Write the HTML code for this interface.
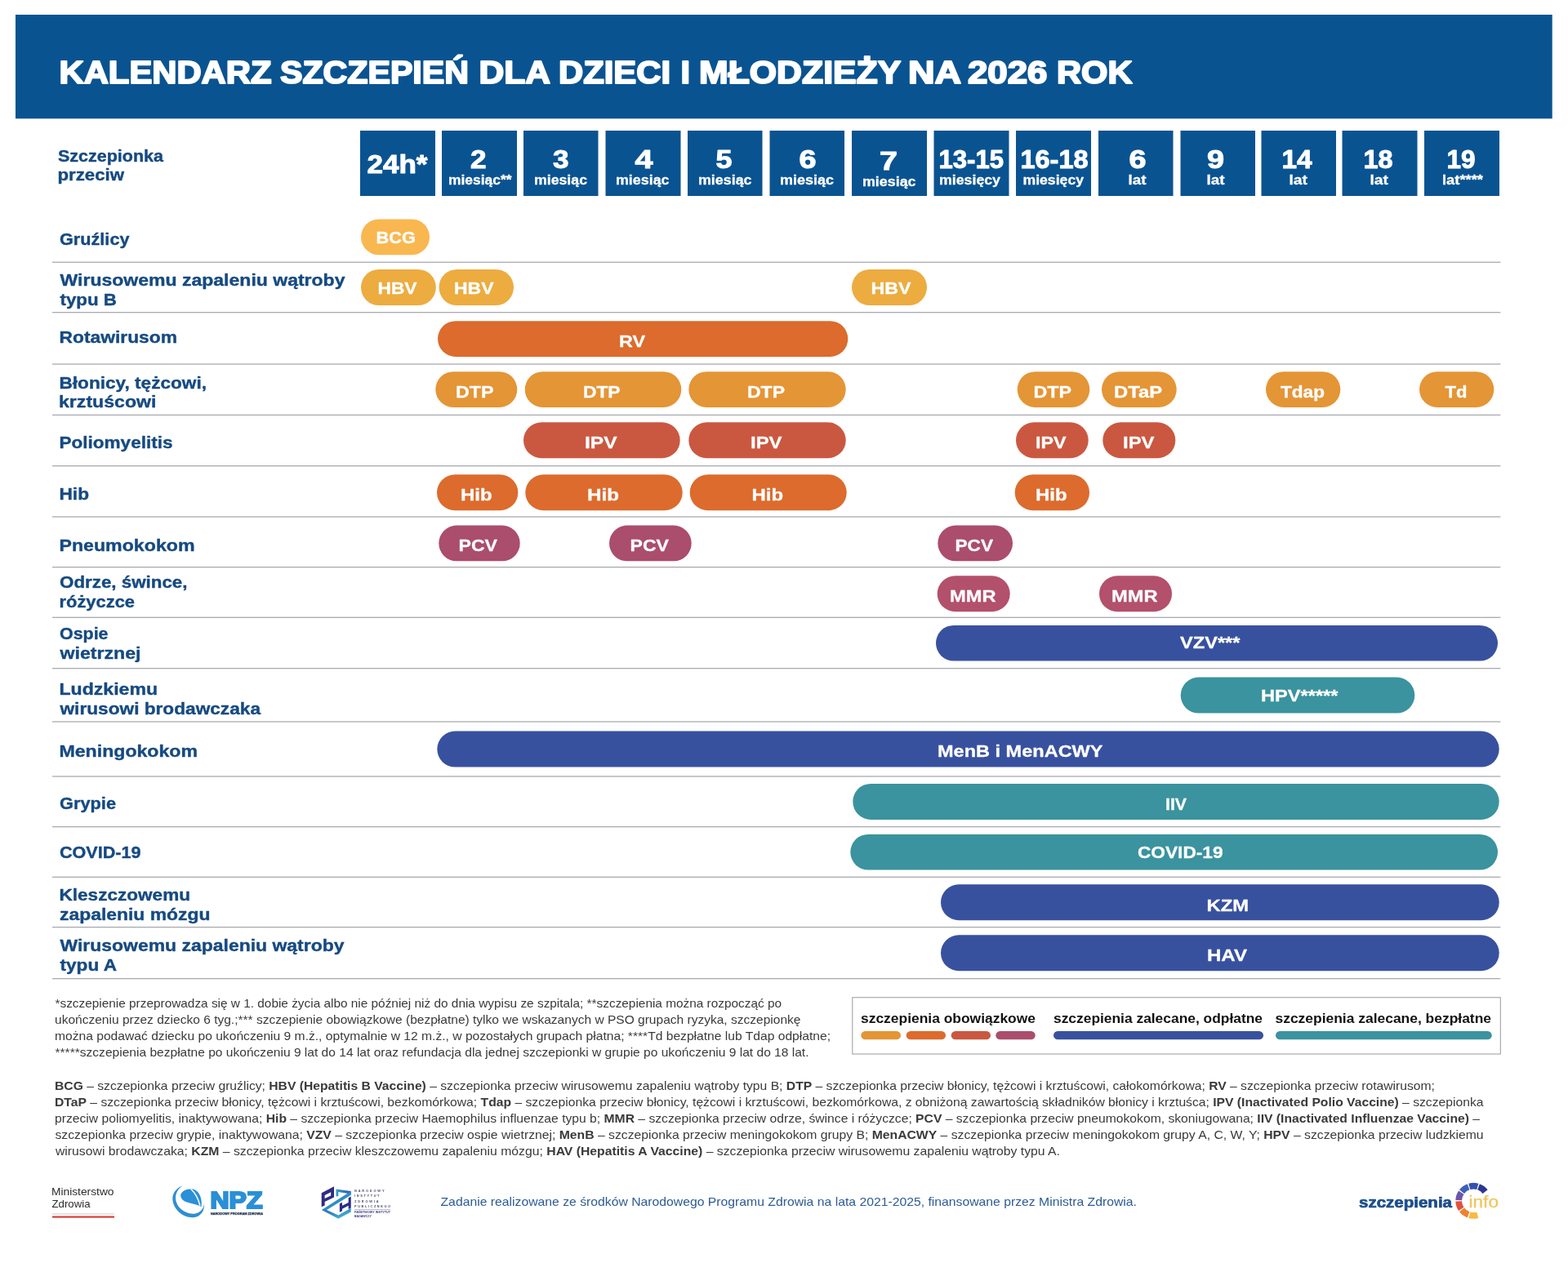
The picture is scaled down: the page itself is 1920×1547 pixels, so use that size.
<!DOCTYPE html>
<html lang="pl">
<head>
<meta charset="utf-8">
<title>Kalendarz szczepień dla dzieci i młodzieży na 2026 rok</title>
<style>
html,body{margin:0;padding:0;background:#fff;}
body{width:1920px;height:1547px;overflow:hidden;font-family:"Liberation Sans",sans-serif;}
svg{display:block;font-family:"Liberation Sans",sans-serif;}
svg text{white-space:pre;}
</style>
</head>
<body>
<svg width="1920" height="1547" viewBox="0 0 1920 1547" role="img" aria-label="Kalendarz szczepień">
<rect width="1920" height="1547" fill="#fff"/>
<rect x="19.00" y="18.00" width="1881.70" height="127.30" fill="#0a5391"/>
<rect x="441.00" y="160.00" width="92.00" height="80.00" fill="#0a5391"/>
<rect x="541.00" y="160.00" width="92.00" height="80.00" fill="#0a5391"/>
<rect x="641.00" y="160.00" width="91.50" height="80.00" fill="#0a5391"/>
<rect x="741.50" y="160.00" width="92.00" height="80.00" fill="#0a5391"/>
<rect x="842.00" y="160.00" width="91.50" height="80.00" fill="#0a5391"/>
<rect x="942.50" y="160.00" width="91.50" height="80.00" fill="#0a5391"/>
<rect x="1043.00" y="160.00" width="92.00" height="80.00" fill="#0a5391"/>
<rect x="1143.50" y="160.00" width="92.00" height="80.00" fill="#0a5391"/>
<rect x="1244.00" y="160.00" width="92.00" height="80.00" fill="#0a5391"/>
<rect x="1345.00" y="160.00" width="91.50" height="80.00" fill="#0a5391"/>
<rect x="1445.50" y="160.00" width="91.50" height="80.00" fill="#0a5391"/>
<rect x="1544.50" y="160.00" width="91.50" height="80.00" fill="#0a5391"/>
<rect x="1643.50" y="160.00" width="92.00" height="80.00" fill="#0a5391"/>
<rect x="1744.00" y="160.00" width="92.00" height="80.00" fill="#0a5391"/>
<rect x="64.00" y="320.60" width="1773.30" height="1.20" fill="#a2a4a9"/>
<rect x="64.00" y="382.10" width="1773.30" height="1.20" fill="#a2a4a9"/>
<rect x="64.00" y="445.40" width="1773.30" height="1.20" fill="#a2a4a9"/>
<rect x="64.00" y="507.70" width="1773.30" height="1.20" fill="#a2a4a9"/>
<rect x="64.00" y="570.10" width="1773.30" height="1.20" fill="#a2a4a9"/>
<rect x="64.00" y="632.40" width="1773.30" height="1.20" fill="#a2a4a9"/>
<rect x="64.00" y="694.10" width="1773.30" height="1.20" fill="#a2a4a9"/>
<rect x="64.00" y="755.70" width="1773.30" height="1.20" fill="#a2a4a9"/>
<rect x="64.00" y="818.10" width="1773.30" height="1.20" fill="#a2a4a9"/>
<rect x="64.00" y="883.40" width="1773.30" height="1.20" fill="#a2a4a9"/>
<rect x="64.00" y="950.40" width="1773.30" height="1.20" fill="#a2a4a9"/>
<rect x="64.00" y="1012.10" width="1773.30" height="1.20" fill="#a2a4a9"/>
<rect x="64.00" y="1073.70" width="1773.30" height="1.20" fill="#a2a4a9"/>
<rect x="64.00" y="1135.10" width="1773.30" height="1.20" fill="#a2a4a9"/>
<rect x="64.00" y="1198.10" width="1773.30" height="1.20" fill="#a2a4a9"/>
<rect x="442.00" y="268.40" width="84.00" height="43.90" fill="#f9b750" rx="21.95"/>
<rect x="442.00" y="329.90" width="91.80" height="44.20" fill="#ecac40" rx="22.10"/>
<rect x="537.50" y="329.90" width="91.50" height="44.20" fill="#ecac40" rx="22.10"/>
<rect x="1043.00" y="329.90" width="92.00" height="44.20" fill="#ecac40" rx="22.10"/>
<rect x="536.00" y="393.20" width="502.30" height="43.80" fill="#dc6b2d" rx="21.90"/>
<rect x="533.30" y="455.20" width="100.00" height="43.80" fill="#e49536" rx="21.90"/>
<rect x="642.70" y="455.20" width="191.60" height="43.80" fill="#e49536" rx="21.90"/>
<rect x="843.30" y="455.20" width="192.40" height="43.80" fill="#e49536" rx="21.90"/>
<rect x="1245.70" y="455.20" width="88.60" height="43.80" fill="#e49536" rx="21.90"/>
<rect x="1349.00" y="455.20" width="91.70" height="43.80" fill="#e49536" rx="21.90"/>
<rect x="1550.00" y="455.20" width="91.30" height="43.80" fill="#e49536" rx="21.90"/>
<rect x="1738.00" y="455.20" width="91.30" height="43.80" fill="#e49536" rx="21.90"/>
<rect x="641.00" y="517.20" width="191.70" height="44.10" fill="#ca5840" rx="22.05"/>
<rect x="843.30" y="517.20" width="192.40" height="44.10" fill="#ca5840" rx="22.05"/>
<rect x="1244.00" y="517.20" width="88.70" height="44.10" fill="#ca5840" rx="22.05"/>
<rect x="1350.30" y="517.20" width="89.00" height="44.10" fill="#ca5840" rx="22.05"/>
<rect x="535.00" y="581.20" width="99.30" height="44.10" fill="#dc6b2d" rx="22.05"/>
<rect x="643.30" y="581.20" width="192.40" height="44.10" fill="#dc6b2d" rx="22.05"/>
<rect x="844.70" y="581.20" width="192.00" height="44.10" fill="#dc6b2d" rx="22.05"/>
<rect x="1242.70" y="581.20" width="91.30" height="44.10" fill="#dc6b2d" rx="22.05"/>
<rect x="537.30" y="643.60" width="99.40" height="43.70" fill="#ab4d6d" rx="21.85"/>
<rect x="746.00" y="643.60" width="100.70" height="43.70" fill="#ab4d6d" rx="21.85"/>
<rect x="1148.30" y="643.60" width="91.70" height="43.70" fill="#ab4d6d" rx="21.85"/>
<rect x="1147.70" y="705.20" width="89.00" height="44.10" fill="#b3506c" rx="22.05"/>
<rect x="1346.00" y="705.20" width="89.00" height="44.10" fill="#b3506c" rx="22.05"/>
<rect x="1146.00" y="765.90" width="688.00" height="43.70" fill="#38519f" rx="21.85"/>
<rect x="1445.70" y="829.60" width="286.60" height="44.00" fill="#3a939e" rx="22.00"/>
<rect x="535.30" y="895.60" width="1300.40" height="44.00" fill="#38519f" rx="22.00"/>
<rect x="1044.30" y="959.90" width="791.40" height="44.10" fill="#3a939e" rx="22.05"/>
<rect x="1041.30" y="1021.90" width="792.70" height="43.70" fill="#3a939e" rx="21.85"/>
<rect x="1152.00" y="1083.20" width="683.70" height="44.10" fill="#38519f" rx="22.05"/>
<rect x="1152.00" y="1145.20" width="683.70" height="44.10" fill="#38519f" rx="22.05"/>
<rect x="1043.8" y="1221.8" width="793.5" height="69.2" fill="#fff" stroke="#9a9a9a" stroke-width="1"/>
<rect x="1054.30" y="1263.00" width="48.70" height="10.30" fill="#e49536" rx="5.15"/>
<rect x="1109.70" y="1263.00" width="48.30" height="10.30" fill="#dc6b2d" rx="5.15"/>
<rect x="1164.70" y="1263.00" width="48.30" height="10.30" fill="#ca5840" rx="5.15"/>
<rect x="1219.30" y="1263.00" width="48.40" height="10.30" fill="#ab4d6d" rx="5.15"/>
<rect x="1290.00" y="1263.00" width="257.00" height="10.30" fill="#38519f" rx="5.15"/>
<rect x="1562.00" y="1263.00" width="264.70" height="10.30" fill="#3a939e" rx="5.15"/>
<rect x="64.00" y="1486.30" width="76.00" height="1.20" fill="#d4d4d8"/>
<rect x="64.00" y="1489.50" width="76.00" height="2.10" fill="#d8392f"/>
<g id="logo-npz" transform="translate(200,1440) scale(0.07292)">
<path fill="#2f8fd0" d="M325,172 C215,205 150,300 155,395 C165,570 335,712 500,703 C625,695 692,600 688,470 C672,575 600,640 500,640 C350,640 212,520 207,385 C203,295 250,215 325,172 Z"/>
<path fill="#2b90d8" d="M291,335 C288,268 380,222 478,222 C580,230 660,350 640,520 C565,484 480,472 420,452 C350,430 294,400 291,335 Z"/>
<path fill="none" stroke="#fff" stroke-width="21" stroke-linecap="butt" d="M462,222 C530,285 585,370 615,500"/>
</g>
<g id="logo-pzh" transform="translate(380,1440) scale(0.07292)">
<defs><linearGradient id="gz" x1="0" y1="0" x2="1" y2="1"><stop offset="0" stop-color="#3a62c0"/><stop offset="0.5" stop-color="#2c8fc4"/><stop offset="1" stop-color="#53cfe6"/></linearGradient><linearGradient id="gz2" x1="0" y1="0" x2="1" y2="0"><stop offset="0" stop-color="#2f9fc8"/><stop offset="1" stop-color="#3a4fb4"/></linearGradient></defs>
<path fill="#2f2c82" fill-rule="evenodd" d="M188,292 L398,182 L398,362 L242,440 L242,500 L188,525 Z M242,328 L242,385 L345,335 L345,278 Z"/>
<path fill="url(#gz2)" d="M432,225 L682,262 L682,320 L640,300 L470,275 L470,345 L432,345 Z"/>
<path fill="#2c8fc4" d="M682,262 L682,325 L275,575 L190,575 Z"/>
<path fill="url(#gz)" d="M190,575 L275,575 L470,665 L682,545 L682,610 L470,722 Z"/>
<path fill="#2b2a8c" d="M492,470 L535,448 L535,505 L640,452 L640,372 L682,348 L682,540 L640,562 L640,505 L535,560 L535,592 L492,615 Z"/>
</g>
<text x="434" y="1459.9" font-size="3.9" font-weight="bold" fill="#4b4a6b" textLength="36.5" lengthAdjust="spacing">NARODOWY</text>
<text x="434" y="1466.3" font-size="3.9" font-weight="bold" fill="#4b4a6b" textLength="30.5" lengthAdjust="spacing">INSTYTUT</text>
<text x="434" y="1472.6" font-size="3.9" font-weight="bold" fill="#4b4a6b" textLength="29.5" lengthAdjust="spacing">ZDROWIA</text>
<text x="434" y="1478.9" font-size="3.9" font-weight="bold" fill="#4b4a6b" textLength="44.0" lengthAdjust="spacing">PUBLICZNEGO</text>
<rect x="434" y="1481.1" width="44" height="0.5" fill="#7a7a9a"/>
<text x="434" y="1486.2" font-size="3.4" font-weight="bold" fill="#3b3a8a" textLength="44" lengthAdjust="spacingAndGlyphs">PAŃSTWOWY INSTYTUT</text>
<text x="434" y="1490.9" font-size="3.4" font-weight="bold" fill="#3b3a8a" textLength="21" lengthAdjust="spacingAndGlyphs">BADAWCZY</text>
<g id="logo-szczepienia">
<path fill="#2d3793" d="M1811.82,1450.13 A22.0,22.0 0 0 1 1821.64,1457.26 L1815.57,1462.00 A14.3,14.3 0 0 0 1809.19,1457.36 Z"/>
<path fill="#3450ad" d="M1798.24,1449.65 A22.0,22.0 0 0 1 1810.36,1449.65 L1808.24,1457.05 A14.3,14.3 0 0 0 1800.36,1457.05 Z"/>
<path fill="#3f60b8" d="M1786.96,1457.26 A22.0,22.0 0 0 1 1796.78,1450.13 L1799.41,1457.36 A14.3,14.3 0 0 0 1793.03,1462.00 Z"/>
<path fill="#6b56a9" d="M1782.31,1470.03 A22.0,22.0 0 0 1 1786.06,1458.50 L1792.44,1462.80 A14.3,14.3 0 0 0 1790.01,1470.30 Z"/>
<path fill="#e2513d" d="M1786.06,1483.10 A22.0,22.0 0 0 1 1782.31,1471.57 L1790.01,1471.30 A14.3,14.3 0 0 0 1792.44,1478.80 Z"/>
<path fill="#f0812e" d="M1796.78,1491.47 A22.0,22.0 0 0 1 1786.96,1484.34 L1793.03,1479.60 A14.3,14.3 0 0 0 1799.41,1484.24 Z"/>
<path fill="#f8ba45" d="M1810.36,1491.95 A22.0,22.0 0 0 1 1798.24,1491.95 L1800.36,1484.55 A14.3,14.3 0 0 0 1808.24,1484.55 Z"/>
</g>
<text y="102.30" font-size="39.2" font-weight="bold" fill="#fff" stroke="#fff" stroke-width="2.0" stroke-linejoin="round"><tspan x="72.50" textLength="260.00" lengthAdjust="spacingAndGlyphs">KALENDARZ</tspan> <tspan x="343.00" textLength="231.00" lengthAdjust="spacingAndGlyphs">SZCZEPIEŃ</tspan> <tspan x="586.50" textLength="86.00" lengthAdjust="spacingAndGlyphs">DLA</tspan> <tspan x="684.00" textLength="137.00" lengthAdjust="spacingAndGlyphs">DZIECI</tspan> <tspan x="833.50" textLength="11.50" lengthAdjust="spacingAndGlyphs">I</tspan> <tspan x="856.00" textLength="246.50" lengthAdjust="spacingAndGlyphs">MŁODZIEŻY</tspan> <tspan x="1112.00" textLength="63.50" lengthAdjust="spacingAndGlyphs">NA</tspan> <tspan x="1185.00" textLength="97.50" lengthAdjust="spacingAndGlyphs">2026</tspan> <tspan x="1294.00" textLength="92.50" lengthAdjust="spacingAndGlyphs">ROK</tspan></text>
<text x="449.50" y="211.50" font-size="31.7" font-weight="bold" fill="#fff" textLength="74.00" lengthAdjust="spacingAndGlyphs" stroke="#fff" stroke-width="1.0" stroke-linejoin="round">24h*</text>
<text x="576.00" y="206.10" font-size="31.7" font-weight="bold" fill="#fff" textLength="19.50" lengthAdjust="spacingAndGlyphs" stroke="#fff" stroke-width="1.0" stroke-linejoin="round">2</text>
<text x="549.00" y="226.00" font-size="16.5" font-weight="bold" fill="#fff" textLength="77.50" lengthAdjust="spacingAndGlyphs" stroke="#fff" stroke-width="0.3" stroke-linejoin="round">miesiąc**</text>
<text x="677.00" y="206.10" font-size="31.7" font-weight="bold" fill="#fff" textLength="19.50" lengthAdjust="spacingAndGlyphs" stroke="#fff" stroke-width="1.0" stroke-linejoin="round">3</text>
<text x="654.00" y="226.00" font-size="16.5" font-weight="bold" fill="#fff" textLength="65.00" lengthAdjust="spacingAndGlyphs" stroke="#fff" stroke-width="0.3" stroke-linejoin="round">miesiąc</text>
<text x="777.50" y="206.10" font-size="31.7" font-weight="bold" fill="#fff" textLength="22.00" lengthAdjust="spacingAndGlyphs" stroke="#fff" stroke-width="1.0" stroke-linejoin="round">4</text>
<text x="754.00" y="226.00" font-size="16.5" font-weight="bold" fill="#fff" textLength="65.50" lengthAdjust="spacingAndGlyphs" stroke="#fff" stroke-width="0.3" stroke-linejoin="round">miesiąc</text>
<text x="876.50" y="206.10" font-size="31.7" font-weight="bold" fill="#fff" textLength="20.00" lengthAdjust="spacingAndGlyphs" stroke="#fff" stroke-width="1.0" stroke-linejoin="round">5</text>
<text x="855.00" y="226.00" font-size="16.5" font-weight="bold" fill="#fff" textLength="65.50" lengthAdjust="spacingAndGlyphs" stroke="#fff" stroke-width="0.3" stroke-linejoin="round">miesiąc</text>
<text x="978.50" y="206.10" font-size="31.7" font-weight="bold" fill="#fff" textLength="21.00" lengthAdjust="spacingAndGlyphs" stroke="#fff" stroke-width="1.0" stroke-linejoin="round">6</text>
<text x="955.00" y="226.00" font-size="16.5" font-weight="bold" fill="#fff" textLength="66.00" lengthAdjust="spacingAndGlyphs" stroke="#fff" stroke-width="0.3" stroke-linejoin="round">miesiąc</text>
<text x="1077.00" y="208.10" font-size="31.7" font-weight="bold" fill="#fff" textLength="22.00" lengthAdjust="spacingAndGlyphs" stroke="#fff" stroke-width="1.0" stroke-linejoin="round">7</text>
<text x="1056.00" y="228.00" font-size="16.5" font-weight="bold" fill="#fff" textLength="65.50" lengthAdjust="spacingAndGlyphs" stroke="#fff" stroke-width="0.3" stroke-linejoin="round">miesiąc</text>
<text x="1149.50" y="206.10" font-size="31.7" font-weight="bold" fill="#fff" textLength="79.50" lengthAdjust="spacingAndGlyphs" stroke="#fff" stroke-width="1.0" stroke-linejoin="round">13-15</text>
<text x="1150.00" y="226.00" font-size="16.5" font-weight="bold" fill="#fff" textLength="75.00" lengthAdjust="spacingAndGlyphs" stroke="#fff" stroke-width="0.3" stroke-linejoin="round">miesięcy</text>
<text x="1249.50" y="206.10" font-size="31.7" font-weight="bold" fill="#fff" textLength="83.00" lengthAdjust="spacingAndGlyphs" stroke="#fff" stroke-width="1.0" stroke-linejoin="round">16-18</text>
<text x="1252.50" y="226.00" font-size="16.5" font-weight="bold" fill="#fff" textLength="74.50" lengthAdjust="spacingAndGlyphs" stroke="#fff" stroke-width="0.3" stroke-linejoin="round">miesięcy</text>
<text x="1382.50" y="206.10" font-size="31.7" font-weight="bold" fill="#fff" textLength="21.00" lengthAdjust="spacingAndGlyphs" stroke="#fff" stroke-width="1.0" stroke-linejoin="round">6</text>
<text x="1381.50" y="226.00" font-size="16.5" font-weight="bold" fill="#fff" textLength="22.00" lengthAdjust="spacingAndGlyphs" stroke="#fff" stroke-width="0.3" stroke-linejoin="round">lat</text>
<text x="1478.00" y="206.10" font-size="31.7" font-weight="bold" fill="#fff" textLength="21.00" lengthAdjust="spacingAndGlyphs" stroke="#fff" stroke-width="1.0" stroke-linejoin="round">9</text>
<text x="1477.50" y="226.00" font-size="16.5" font-weight="bold" fill="#fff" textLength="22.00" lengthAdjust="spacingAndGlyphs" stroke="#fff" stroke-width="0.3" stroke-linejoin="round">lat</text>
<text x="1569.50" y="206.10" font-size="31.7" font-weight="bold" fill="#fff" textLength="37.00" lengthAdjust="spacingAndGlyphs" stroke="#fff" stroke-width="1.0" stroke-linejoin="round">14</text>
<text x="1578.50" y="226.00" font-size="16.5" font-weight="bold" fill="#fff" textLength="22.50" lengthAdjust="spacingAndGlyphs" stroke="#fff" stroke-width="0.3" stroke-linejoin="round">lat</text>
<text x="1669.50" y="206.10" font-size="31.7" font-weight="bold" fill="#fff" textLength="36.00" lengthAdjust="spacingAndGlyphs" stroke="#fff" stroke-width="1.0" stroke-linejoin="round">18</text>
<text x="1677.50" y="226.00" font-size="16.5" font-weight="bold" fill="#fff" textLength="22.50" lengthAdjust="spacingAndGlyphs" stroke="#fff" stroke-width="0.3" stroke-linejoin="round">lat</text>
<text x="1771.50" y="206.10" font-size="31.7" font-weight="bold" fill="#fff" textLength="35.00" lengthAdjust="spacingAndGlyphs" stroke="#fff" stroke-width="1.0" stroke-linejoin="round">19</text>
<text x="1766.00" y="226.00" font-size="16.5" font-weight="bold" fill="#fff" textLength="50.00" lengthAdjust="spacingAndGlyphs" stroke="#fff" stroke-width="0.3" stroke-linejoin="round">lat****</text>
<text x="71.00" y="197.50" font-size="20" font-weight="bold" fill="#164a80" textLength="129.00" lengthAdjust="spacingAndGlyphs" stroke="#164a80" stroke-width="0.4" stroke-linejoin="round">Szczepionka</text>
<text x="70.50" y="221.30" font-size="20" font-weight="bold" fill="#164a80" textLength="81.50" lengthAdjust="spacingAndGlyphs" stroke="#164a80" stroke-width="0.4" stroke-linejoin="round">przeciw</text>
<text x="73.00" y="299.60" font-size="21" font-weight="bold" fill="#164a80" textLength="85.50" lengthAdjust="spacingAndGlyphs" stroke="#164a80" stroke-width="0.4" stroke-linejoin="round">Gruźlicy</text>
<text x="73.50" y="349.60" font-size="21" font-weight="bold" fill="#164a80" textLength="349.00" lengthAdjust="spacingAndGlyphs" stroke="#164a80" stroke-width="0.4" stroke-linejoin="round">Wirusowemu zapaleniu wątroby</text>
<text x="73.50" y="373.60" font-size="21" font-weight="bold" fill="#164a80" textLength="69.50" lengthAdjust="spacingAndGlyphs" stroke="#164a80" stroke-width="0.4" stroke-linejoin="round">typu B</text>
<text x="72.50" y="420.30" font-size="21" font-weight="bold" fill="#164a80" textLength="144.50" lengthAdjust="spacingAndGlyphs" stroke="#164a80" stroke-width="0.4" stroke-linejoin="round">Rotawirusom</text>
<text x="72.50" y="475.60" font-size="21" font-weight="bold" fill="#164a80" textLength="180.50" lengthAdjust="spacingAndGlyphs" stroke="#164a80" stroke-width="0.4" stroke-linejoin="round">Błonicy, tężcowi,</text>
<text x="72.00" y="498.90" font-size="21" font-weight="bold" fill="#164a80" textLength="119.50" lengthAdjust="spacingAndGlyphs" stroke="#164a80" stroke-width="0.4" stroke-linejoin="round">krztuścowi</text>
<text x="72.50" y="548.90" font-size="21" font-weight="bold" fill="#164a80" textLength="139.00" lengthAdjust="spacingAndGlyphs" stroke="#164a80" stroke-width="0.4" stroke-linejoin="round">Poliomyelitis</text>
<text x="72.50" y="612.30" font-size="21" font-weight="bold" fill="#164a80" textLength="36.50" lengthAdjust="spacingAndGlyphs" stroke="#164a80" stroke-width="0.4" stroke-linejoin="round">Hib</text>
<text x="72.50" y="674.60" font-size="21" font-weight="bold" fill="#164a80" textLength="166.00" lengthAdjust="spacingAndGlyphs" stroke="#164a80" stroke-width="0.4" stroke-linejoin="round">Pneumokokom</text>
<text x="73.00" y="720.30" font-size="21" font-weight="bold" fill="#164a80" textLength="156.50" lengthAdjust="spacingAndGlyphs" stroke="#164a80" stroke-width="0.4" stroke-linejoin="round">Odrze, śwince,</text>
<text x="72.50" y="743.90" font-size="21" font-weight="bold" fill="#164a80" textLength="92.50" lengthAdjust="spacingAndGlyphs" stroke="#164a80" stroke-width="0.4" stroke-linejoin="round">różyczce</text>
<text x="73.00" y="782.60" font-size="21" font-weight="bold" fill="#164a80" textLength="59.50" lengthAdjust="spacingAndGlyphs" stroke="#164a80" stroke-width="0.4" stroke-linejoin="round">Ospie</text>
<text x="73.50" y="806.60" font-size="21" font-weight="bold" fill="#164a80" textLength="99.00" lengthAdjust="spacingAndGlyphs" stroke="#164a80" stroke-width="0.4" stroke-linejoin="round">wietrznej</text>
<text x="72.50" y="850.60" font-size="21" font-weight="bold" fill="#164a80" textLength="120.50" lengthAdjust="spacingAndGlyphs" stroke="#164a80" stroke-width="0.4" stroke-linejoin="round">Ludzkiemu</text>
<text x="73.50" y="874.60" font-size="21" font-weight="bold" fill="#164a80" textLength="245.50" lengthAdjust="spacingAndGlyphs" stroke="#164a80" stroke-width="0.4" stroke-linejoin="round">wirusowi brodawczaka</text>
<text x="72.50" y="926.90" font-size="21" font-weight="bold" fill="#164a80" textLength="169.50" lengthAdjust="spacingAndGlyphs" stroke="#164a80" stroke-width="0.4" stroke-linejoin="round">Meningokokom</text>
<text x="73.00" y="991.30" font-size="21" font-weight="bold" fill="#164a80" textLength="69.00" lengthAdjust="spacingAndGlyphs" stroke="#164a80" stroke-width="0.4" stroke-linejoin="round">Grypie</text>
<text x="73.00" y="1050.60" font-size="21" font-weight="bold" fill="#164a80" textLength="99.50" lengthAdjust="spacingAndGlyphs" stroke="#164a80" stroke-width="0.4" stroke-linejoin="round">COVID-19</text>
<text x="72.50" y="1102.90" font-size="21" font-weight="bold" fill="#164a80" textLength="160.50" lengthAdjust="spacingAndGlyphs" stroke="#164a80" stroke-width="0.4" stroke-linejoin="round">Kleszczowemu</text>
<text x="73.00" y="1126.90" font-size="21" font-weight="bold" fill="#164a80" textLength="184.50" lengthAdjust="spacingAndGlyphs" stroke="#164a80" stroke-width="0.4" stroke-linejoin="round">zapaleniu mózgu</text>
<text x="73.50" y="1165.30" font-size="21" font-weight="bold" fill="#164a80" textLength="348.00" lengthAdjust="spacingAndGlyphs" stroke="#164a80" stroke-width="0.4" stroke-linejoin="round">Wirusowemu zapaleniu wątroby</text>
<text x="73.50" y="1188.90" font-size="21" font-weight="bold" fill="#164a80" textLength="69.50" lengthAdjust="spacingAndGlyphs" stroke="#164a80" stroke-width="0.4" stroke-linejoin="round">typu A</text>
<text x="460.50" y="297.50" font-size="20" font-weight="bold" fill="#fff" textLength="48.50" lengthAdjust="spacingAndGlyphs" stroke="#fff" stroke-width="0.3" stroke-linejoin="round">BCG</text>
<text x="462.50" y="360.00" font-size="20" font-weight="bold" fill="#fff" textLength="48.00" lengthAdjust="spacingAndGlyphs" stroke="#fff" stroke-width="0.3" stroke-linejoin="round">HBV</text>
<text x="556.00" y="360.00" font-size="20" font-weight="bold" fill="#fff" textLength="48.50" lengthAdjust="spacingAndGlyphs" stroke="#fff" stroke-width="0.3" stroke-linejoin="round">HBV</text>
<text x="1066.50" y="360.00" font-size="20" font-weight="bold" fill="#fff" textLength="49.00" lengthAdjust="spacingAndGlyphs" stroke="#fff" stroke-width="0.3" stroke-linejoin="round">HBV</text>
<text x="758.00" y="425.00" font-size="20" font-weight="bold" fill="#fff" textLength="32.00" lengthAdjust="spacingAndGlyphs" stroke="#fff" stroke-width="0.3" stroke-linejoin="round">RV</text>
<text x="558.00" y="486.90" font-size="20" font-weight="bold" fill="#fff" textLength="46.50" lengthAdjust="spacingAndGlyphs" stroke="#fff" stroke-width="0.3" stroke-linejoin="round">DTP</text>
<text x="714.00" y="486.90" font-size="20" font-weight="bold" fill="#fff" textLength="45.50" lengthAdjust="spacingAndGlyphs" stroke="#fff" stroke-width="0.3" stroke-linejoin="round">DTP</text>
<text x="915.00" y="486.90" font-size="20" font-weight="bold" fill="#fff" textLength="46.00" lengthAdjust="spacingAndGlyphs" stroke="#fff" stroke-width="0.3" stroke-linejoin="round">DTP</text>
<text x="1265.50" y="486.90" font-size="20" font-weight="bold" fill="#fff" textLength="46.50" lengthAdjust="spacingAndGlyphs" stroke="#fff" stroke-width="0.3" stroke-linejoin="round">DTP</text>
<text x="1364.00" y="486.90" font-size="20" font-weight="bold" fill="#fff" textLength="59.00" lengthAdjust="spacingAndGlyphs" stroke="#fff" stroke-width="0.3" stroke-linejoin="round">DTaP</text>
<text x="1568.00" y="486.90" font-size="20" font-weight="bold" fill="#fff" textLength="54.00" lengthAdjust="spacingAndGlyphs" stroke="#fff" stroke-width="0.3" stroke-linejoin="round">Tdap</text>
<text x="1769.50" y="486.90" font-size="20" font-weight="bold" fill="#fff" textLength="27.00" lengthAdjust="spacingAndGlyphs" stroke="#fff" stroke-width="0.3" stroke-linejoin="round">Td</text>
<text x="716.00" y="549.30" font-size="20" font-weight="bold" fill="#fff" textLength="39.50" lengthAdjust="spacingAndGlyphs" stroke="#fff" stroke-width="0.3" stroke-linejoin="round">IPV</text>
<text x="919.00" y="549.30" font-size="20" font-weight="bold" fill="#fff" textLength="38.50" lengthAdjust="spacingAndGlyphs" stroke="#fff" stroke-width="0.3" stroke-linejoin="round">IPV</text>
<text x="1268.00" y="549.30" font-size="20" font-weight="bold" fill="#fff" textLength="37.50" lengthAdjust="spacingAndGlyphs" stroke="#fff" stroke-width="0.3" stroke-linejoin="round">IPV</text>
<text x="1375.00" y="549.30" font-size="20" font-weight="bold" fill="#fff" textLength="38.50" lengthAdjust="spacingAndGlyphs" stroke="#fff" stroke-width="0.3" stroke-linejoin="round">IPV</text>
<text x="564.00" y="612.70" font-size="20" font-weight="bold" fill="#fff" textLength="38.50" lengthAdjust="spacingAndGlyphs" stroke="#fff" stroke-width="0.3" stroke-linejoin="round">Hib</text>
<text x="719.00" y="612.70" font-size="20" font-weight="bold" fill="#fff" textLength="39.00" lengthAdjust="spacingAndGlyphs" stroke="#fff" stroke-width="0.3" stroke-linejoin="round">Hib</text>
<text x="920.50" y="612.70" font-size="20" font-weight="bold" fill="#fff" textLength="38.50" lengthAdjust="spacingAndGlyphs" stroke="#fff" stroke-width="0.3" stroke-linejoin="round">Hib</text>
<text x="1268.00" y="612.70" font-size="20" font-weight="bold" fill="#fff" textLength="38.50" lengthAdjust="spacingAndGlyphs" stroke="#fff" stroke-width="0.3" stroke-linejoin="round">Hib</text>
<text x="561.50" y="675.30" font-size="20" font-weight="bold" fill="#fff" textLength="47.50" lengthAdjust="spacingAndGlyphs" stroke="#fff" stroke-width="0.3" stroke-linejoin="round">PCV</text>
<text x="771.50" y="675.30" font-size="20" font-weight="bold" fill="#fff" textLength="47.50" lengthAdjust="spacingAndGlyphs" stroke="#fff" stroke-width="0.3" stroke-linejoin="round">PCV</text>
<text x="1169.50" y="675.30" font-size="20" font-weight="bold" fill="#fff" textLength="46.50" lengthAdjust="spacingAndGlyphs" stroke="#fff" stroke-width="0.3" stroke-linejoin="round">PCV</text>
<text x="1163.00" y="737.30" font-size="20" font-weight="bold" fill="#fff" textLength="56.50" lengthAdjust="spacingAndGlyphs" stroke="#fff" stroke-width="0.3" stroke-linejoin="round">MMR</text>
<text x="1361.00" y="737.30" font-size="20" font-weight="bold" fill="#fff" textLength="56.50" lengthAdjust="spacingAndGlyphs" stroke="#fff" stroke-width="0.3" stroke-linejoin="round">MMR</text>
<text x="1445.00" y="794.30" font-size="20" font-weight="bold" fill="#fff" textLength="73.50" lengthAdjust="spacingAndGlyphs" stroke="#fff" stroke-width="0.3" stroke-linejoin="round">VZV***</text>
<text x="1544.00" y="858.70" font-size="20" font-weight="bold" fill="#fff" textLength="94.50" lengthAdjust="spacingAndGlyphs" stroke="#fff" stroke-width="0.3" stroke-linejoin="round">HPV*****</text>
<text x="1148.00" y="927.30" font-size="20" font-weight="bold" fill="#fff" textLength="202.50" lengthAdjust="spacingAndGlyphs" stroke="#fff" stroke-width="0.3" stroke-linejoin="round">MenB i MenACWY</text>
<text x="1427.00" y="991.70" font-size="20" font-weight="bold" fill="#fff" textLength="26.00" lengthAdjust="spacingAndGlyphs" stroke="#fff" stroke-width="0.3" stroke-linejoin="round">IIV</text>
<text x="1393.00" y="1050.70" font-size="20" font-weight="bold" fill="#fff" textLength="104.50" lengthAdjust="spacingAndGlyphs" stroke="#fff" stroke-width="0.3" stroke-linejoin="round">COVID-19</text>
<text x="1477.50" y="1116.00" font-size="20" font-weight="bold" fill="#fff" textLength="51.50" lengthAdjust="spacingAndGlyphs" stroke="#fff" stroke-width="0.3" stroke-linejoin="round">KZM</text>
<text x="1478.00" y="1177.30" font-size="20" font-weight="bold" fill="#fff" textLength="49.00" lengthAdjust="spacingAndGlyphs" stroke="#fff" stroke-width="0.3" stroke-linejoin="round">HAV</text>
<text x="67.50" y="1234.30" font-size="14.5" fill="#3a3a3a" textLength="889.50" lengthAdjust="spacingAndGlyphs">*szczepienie przeprowadza się w 1. dobie życia albo nie później niż do dnia wypisu ze szpitala; **szczepienia można rozpocząć po</text>
<text x="67.00" y="1254.30" font-size="14.5" fill="#3a3a3a" textLength="913.50" lengthAdjust="spacingAndGlyphs">ukończeniu przez dziecko 6 tyg.;*** szczepienie obowiązkowe (bezpłatne) tylko we wskazanych w PSO grupach ryzyka, szczepionkę</text>
<text x="67.00" y="1274.30" font-size="14.5" fill="#3a3a3a" textLength="950.00" lengthAdjust="spacingAndGlyphs">można podawać dziecku po ukończeniu 9 m.ż., optymalnie w 12 m.ż., w pozostałych grupach płatna; ****Td bezpłatne lub Tdap odpłatne;</text>
<text x="67.50" y="1294.30" font-size="14.5" fill="#3a3a3a" textLength="923.00" lengthAdjust="spacingAndGlyphs">*****szczepienia bezpłatne po ukończeniu 9 lat do 14 lat oraz refundacja dla jednej szczepionki w grupie po ukończeniu 9 lat do 18 lat.</text>
<text x="67.00" y="1335.00" font-size="14.5" fill="#3a3a3a" textLength="1690.00" lengthAdjust="spacingAndGlyphs"><tspan font-weight="bold">BCG</tspan> – szczepionka przeciw gruźlicy; <tspan font-weight="bold">HBV (Hepatitis B Vaccine)</tspan> – szczepionka przeciw wirusowemu zapaleniu wątroby typu B; <tspan font-weight="bold">DTP</tspan> – szczepionka przeciw błonicy, tężcowi i krztuścowi, całokomórkowa; <tspan font-weight="bold">RV</tspan> – szczepionka przeciw rotawirusom;</text>
<text x="67.00" y="1355.00" font-size="14.5" fill="#3a3a3a" textLength="1749.50" lengthAdjust="spacingAndGlyphs"><tspan font-weight="bold">DTaP</tspan> – szczepionka przeciw błonicy, tężcowi i krztuścowi, bezkomórkowa; <tspan font-weight="bold">Tdap</tspan> – szczepionka przeciw błonicy, tężcowi i krztuścowi, bezkomórkowa, z obniżoną zawartością składników błonicy i krztuśca; <tspan font-weight="bold">IPV (Inactivated Polio Vaccine)</tspan> – szczepionka</text>
<text x="67.00" y="1375.00" font-size="14.5" fill="#3a3a3a" textLength="1745.00" lengthAdjust="spacingAndGlyphs">przeciw poliomyelitis, inaktywowana; <tspan font-weight="bold">Hib</tspan> – szczepionka przeciw Haemophilus influenzae typu b; <tspan font-weight="bold">MMR</tspan> – szczepionka przeciw odrze, śwince i różyczce; <tspan font-weight="bold">PCV</tspan> – szczepionka przeciw pneumokokom, skoniugowana; <tspan font-weight="bold">IIV (Inactivated Influenzae Vaccine)</tspan> –</text>
<text x="67.50" y="1395.00" font-size="14.5" fill="#3a3a3a" textLength="1749.00" lengthAdjust="spacingAndGlyphs">szczepionka przeciw grypie, inaktywowana; <tspan font-weight="bold">VZV</tspan> – szczepionka przeciw ospie wietrznej; <tspan font-weight="bold">MenB</tspan> – szczepionka przeciw meningokokom grupy B; <tspan font-weight="bold">MenACWY</tspan> – szczepionka przeciw meningokokom grupy A, C, W, Y; <tspan font-weight="bold">HPV</tspan> – szczepionka przeciw ludzkiemu</text>
<text x="68.00" y="1415.00" font-size="14.5" fill="#3a3a3a" textLength="1230.00" lengthAdjust="spacingAndGlyphs">wirusowi brodawczaka; <tspan font-weight="bold">KZM</tspan> – szczepionka przeciw kleszczowemu zapaleniu mózgu; <tspan font-weight="bold">HAV (Hepatitis A Vaccine)</tspan> – szczepionka przeciw wirusowemu zapaleniu wątroby typu A.</text>
<text x="1054.00" y="1252.70" font-size="16.5" font-weight="bold" fill="#111" textLength="214.00" lengthAdjust="spacingAndGlyphs">szczepienia obowiązkowe</text>
<text x="1290.00" y="1252.70" font-size="16.5" font-weight="bold" fill="#111" textLength="256.00" lengthAdjust="spacingAndGlyphs">szczepienia zalecane, odpłatne</text>
<text x="1561.50" y="1252.70" font-size="16.5" font-weight="bold" fill="#111" textLength="264.50" lengthAdjust="spacingAndGlyphs">szczepienia zalecane, bezpłatne</text>
<text x="63.00" y="1463.80" font-size="13.3" fill="#2c2c2c" textLength="76.50" lengthAdjust="spacingAndGlyphs">Ministerstwo</text>
<text x="63.50" y="1478.80" font-size="13.3" fill="#2c2c2c" textLength="47.00" lengthAdjust="spacingAndGlyphs">Zdrowia</text>
<text x="539.50" y="1476.70" font-size="14.5" fill="#2d5c94" textLength="852.50" lengthAdjust="spacingAndGlyphs">Zadanie realizowane ze środków Narodowego Programu Zdrowia na lata 2021-2025, finansowane przez Ministra Zdrowia.</text>
<text x="257.50" y="1479.70" font-size="29.6" font-weight="bold" fill="#2b8fd6" textLength="64.00" lengthAdjust="spacingAndGlyphs" stroke="#2b8fd6" stroke-width="2.2" stroke-linejoin="miter">NPZ</text>
<text x="258.00" y="1487.90" font-size="3.9" font-weight="bold" fill="#22304f" textLength="64.00" lengthAdjust="spacingAndGlyphs" stroke="#22304f" stroke-width="0.25" stroke-linejoin="round">NARODOWY PROGRAM ZDROWIA</text>
<text x="1664.00" y="1478.80" font-size="18.6" font-weight="bold" fill="#1b4e8c" textLength="114.00" lengthAdjust="spacingAndGlyphs" stroke="#1b4e8c" stroke-width="0.7" stroke-linejoin="round">szczepienia</text>
<text x="1798.50" y="1478.80" font-size="19.5" fill="#f0c660" textLength="36.50" lengthAdjust="spacingAndGlyphs" stroke="#f0c660" stroke-width="0.3" stroke-linejoin="round">info</text>
</svg>
</body>
</html>
